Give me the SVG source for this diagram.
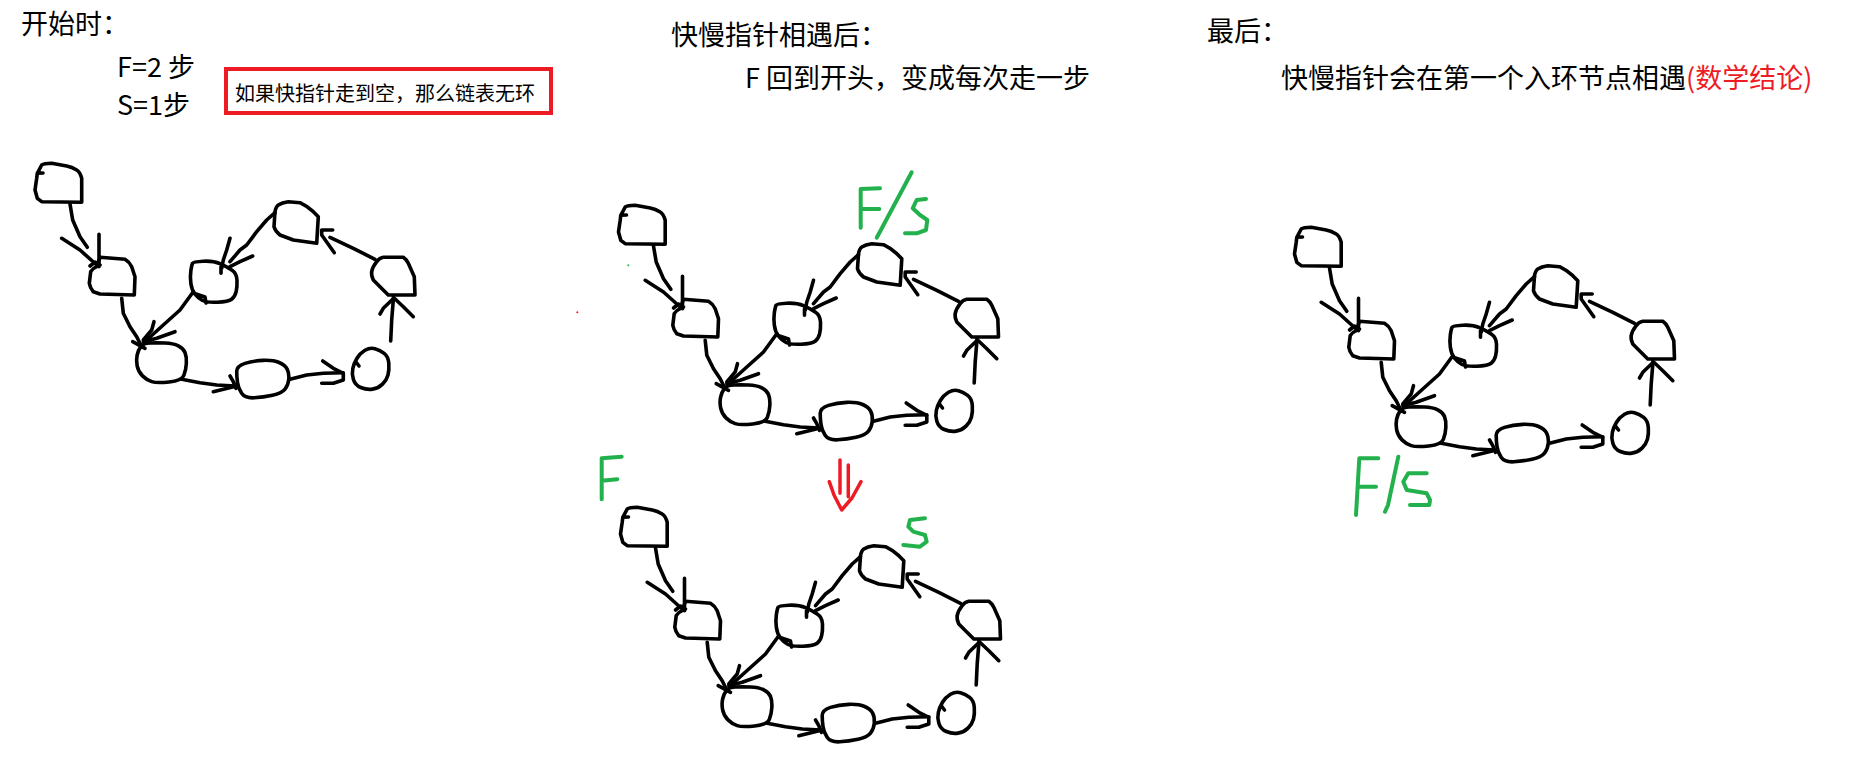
<svg xmlns="http://www.w3.org/2000/svg" xmlns:xlink="http://www.w3.org/1999/xlink" width="1872" height="757" viewBox="0 0 1872 757">
<style>
.t{font-family:"Microsoft YaHei","Noto Sans CJK SC",sans-serif;font-size:27px;fill:#000}
.s{font-size:20px}
.r{fill:#ED1C24}
.k{fill:none;stroke:#000;stroke-width:3.6;stroke-linecap:round;stroke-linejoin:round}
.g{fill:none;stroke:#22B14C;stroke-width:4;stroke-linecap:round;stroke-linejoin:round}
.rd{fill:none;stroke:#ED1C24;stroke-width:3.5;stroke-linecap:round;stroke-linejoin:round}
</style>
<defs>
<g id="sketch">
  <g id="node-a"><path class="k" d="M36.7,178.3 L35,190 L37.3,198.3 L41.7,201.7 L81.7,202.3 L81.7,178.3 Q80,172 76.7,170 Q72,167 66.7,166 L51.7,163.3 Q44,163.5 41.7,165 L37.3,173.3 Z M37.3,173.3 L43,173"/></g>
  <g id="node-b"><path class="k" d="M100,257.3 L125,259.3 Q129.5,262 131.7,266.7 L135,276.7 L134.3,295 L100,294 L93.3,291.7 Q90,288 89.3,283.3 L90.7,271.7 Q92.5,268.5 96.7,266.7 Z"/></g>
  <g id="node-c"><path class="k" d="M140.8,346.65 Q143.3,343.3 150,343 Q156.7,342.7 165,343 Q173.3,343.3 178.3,345.8 Q183.3,348.3 185,352.5 Q186.7,356.7 186.35,363.35 Q186,370 183.85,375.35 Q181.7,380.7 169.2,382 Q156.7,383.3 151.7,381.65 Q146.7,380 142.5,375.85 Q138.3,371.7 137.15,365.85 Q136,360 137.15,355 Q138.3,350 140.8,346.65 Z"/></g>
  <g id="node-d"><path class="k" d="M192.5,263.35 Q193.3,261.7 203.3,261.2 Q213.3,260.7 220,263.7 Q226.7,266.7 231.7,270 Q236.7,273.3 237,280 Q237.3,286.7 236.15,291.7 Q235,296.7 231.65,299.2 Q228.3,301.7 217.5,302.2 Q206.7,302.7 202.5,300.5 Q198.3,298.3 195,294.15 Q191.7,290 190.85,283.35 Q190,276.7 190.85,270.85 Q191.7,265 192.5,263.35 Z M193,293 L205,297 L206,303"/></g>
  <g id="node-e"><path class="k" d="M236.7,371.35 Q236.7,366 245,363.35 Q253.3,360.7 263.3,360.35 Q273.3,360 279.15,362.5 Q285,365 287.15,369.15 Q289.3,373.3 288.8,379.15 Q288.3,385 285,389.15 Q281.7,393.3 272.5,395.3 Q263.3,397.3 254.15,397.8 Q245,398.3 241.65,393.3 Q238.3,388.3 237.5,382.5 Q236.7,376.7 236.7,371.35 Z"/></g>
  <g id="node-f"><path class="k" d="M357,358.3 Q360,353.3 365,350.3 Q370,347.3 375,348.65 Q380,350 384.15,353.35 Q388.3,356.7 388.8,363.35 Q389.3,370 388,375 Q386.7,380 382.5,384.15 Q378.3,388.3 372.5,389.15 Q366.7,390 360.85,387.5 Q355,385 353.35,379.15 Q351.7,373.3 352.85,368.3 Q354,363.3 357,358.3 Z M356,362 L359,366"/></g>
  <g id="node-g"><path class="k" d="M376.7,261.7 Q379,258 383.3,257.3 L403.3,257.3 Q406.5,259.5 408.3,263.3 L414.3,276.7 L415,295 L388.3,295 L380,286.7 L373.3,280 Q371,275 371.7,271.7 Q372.5,267 376.7,261.7 Z"/></g>
  <g id="node-h"><path class="k" d="M275,211.7 Q276,206.5 278.3,205 Q282,202.5 288.3,201.7 L300,202.7 Q307,206 313.3,211.7 L318.3,216.7 L316.7,243.3 L293.3,240 L280,235 Q275.5,231.5 274,226.7 Z"/></g>
  <g id="connectors">
    <path class="k" d="M70,204 L72.7,220 L80,236.7 L87.3,247.3"/>
    <path class="k" d="M61.7,238.3 L80,250 L96.7,265 M99,234.3 L99,266.7 M90,266 L95,262 L100,265"/>
    <path class="k" d="M121.7,298.3 L123.3,313.3 L130,326.7 L136.7,336.7 L141.7,346.7"/>
    <path class="k" d="M193.3,291.7 L180,310 L163.3,325 L146.7,340"/>
    <path class="k" d="M154,321.7 L151.7,330 L143.3,340 M175,331.7 L156.7,338.3 L143.3,341.7 M132.7,341.7 L145,348.3"/>
    <path class="k" d="M181.7,379.3 L200,382.7 L216.7,385 L235,386"/>
    <path class="k" d="M213.3,391.7 L236.7,386 M230,376 L233.3,381.7 L236,388.3"/>
    <path class="k" d="M290,379.3 L306.7,375 L323.3,373.3 L343.3,372.7"/>
    <path class="k" d="M322.7,361 L333.3,368.3 L343.3,373.3 L343.3,380 L333.3,383.3 L321.7,383.3"/>
    <path class="k" d="M390.7,341 L391.7,320 L393.3,300"/>
    <path class="k" d="M380,314 L383.3,308.3 L392.7,299.3 M413.3,316.7 L403.3,306.7 L393.3,297.3"/>
    <path class="k" d="M375,259.3 L353.3,248.3 L330,237.3"/>
    <path class="k" d="M332.7,230 L321.7,230 L321.7,235 L334.3,252.7"/>
    <path class="k" d="M275,212.7 L266.7,220 L256.7,231.7 L246.7,245 L240,250 L230,261.7"/>
    <path class="k" d="M230,238.3 L226.7,250 L223.3,260 L221.7,268.3 M252.7,256 L240,261.7 L230,266.7 M221,266.7 L221,273.3"/>
  </g>
</g>
</defs>

<g id="texts">
  <text class="t" x="21" y="34">开始时：</text>
  <text class="t" x="117" y="77">F=2 步</text>
  <text class="t" x="117" y="115">S=1步</text>
  <text class="t" x="671" y="45">快慢指针相遇后：</text>
  <text class="t" x="745" y="88">F 回到开头，变成每次走一步</text>
  <text class="t" x="1207" y="41">最后：</text>
  <text class="t" x="1281" y="88">快慢指针会在第一个入环节点相遇<tspan class="r">(数学结论)</tspan></text>
</g>

<g id="note">
  <rect x="226" y="69" width="325" height="44" fill="none" stroke="#ED1C24" stroke-width="4"/>
  <text class="t s" x="235" y="101">如果快指针走到空，那么链表无环</text>
</g>

<g id="diagram-start"><use xlink:href="#sketch" href="#sketch"/></g>
<g id="diagram-meet" transform="translate(583.5,42)"><use xlink:href="#sketch" href="#sketch"/></g>
<g id="diagram-reset" transform="translate(585.5,344)"><use xlink:href="#sketch" href="#sketch"/></g>
<g id="diagram-end" transform="translate(1259.5,64)"><use xlink:href="#sketch" href="#sketch"/></g>

<g id="marks">
  <path class="g" d="M860.7,189 L860.7,227.7 M860.7,189 L880,188.3 M860.7,209 L879.3,209"/>
  <path class="g" d="M876.7,237.7 L911.7,172.3"/>
  <path class="g" d="M926,199 L916.7,200 L912.7,208.3 L920,215 L927.3,220 L926,230 L916.7,233.3 L905,233.3"/>
  <path class="g" d="M601.7,458.3 L601.7,499.3 M601.7,458.3 L621.7,456.7 M601.7,480.7 L617.3,479.3" stroke-width="4.5"/>
  <path class="g" d="M925,518.3 L910,520 L908.3,526.7 L913.3,531.7 L925,535 L926.7,541.7 L920,546.7 L903.3,545"/>
  <path class="rd" d="M840,460 L840,493.3 M848.3,465 L848.3,496.7 M829.3,481.7 L834,495 L841.7,510 L852,498 L861,481.7"/>
  <path class="g" d="M1359.3,458.3 L1356,515 M1359.3,458.3 L1378.3,458.3 M1358.3,486.7 L1376,486.7" stroke-width="4.5"/>
  <path class="g" d="M1398.3,456.7 L1388,505 L1385,511.7"/>
  <path class="g" d="M1426.7,473.3 L1408.3,473.3 L1403.3,481.7 L1406.7,490 L1426.7,493.3 L1430,500 L1429.3,505 L1410,505"/>
  <path d="M627.3,265.3 h2 M628.3,264.3 v2" stroke="#22B14C" stroke-width="1"/>
  <path d="M576.3,312.3 h2 M577.3,311.3 v2" stroke="#ED1C24" stroke-width="1"/>
</g>
</svg>
